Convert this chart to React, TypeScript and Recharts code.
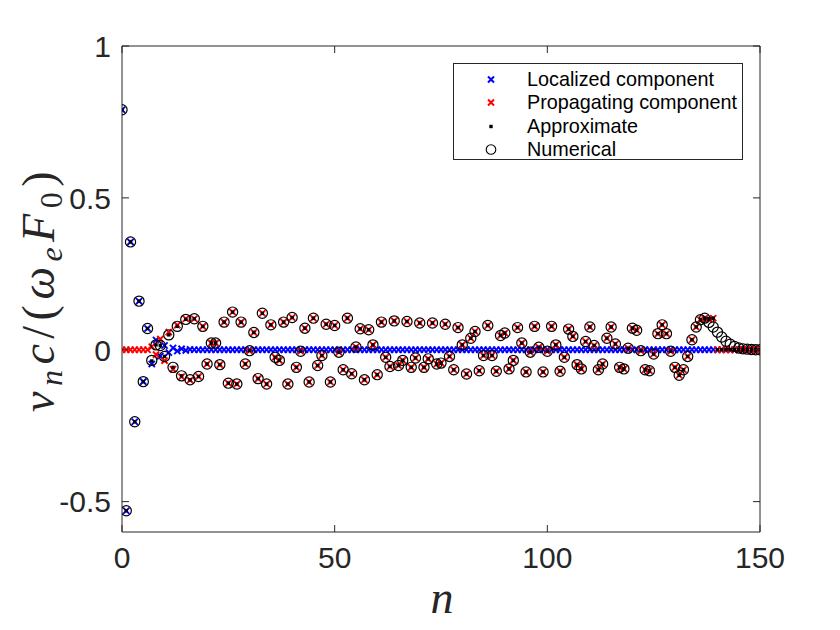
import React from 'react';
import { ScatterChart, Scatter, XAxis, YAxis, Legend } from 'recharts';

const AXIS_COLOR = '#262626';
const TICK_FONT = '"Liberation Sans", Arial, sans-serif';
const MATH_FONT = '"Liberation Serif", "Times New Roman", serif';

// values for n = 0 .. 150
const localized = [
  0.79, -0.53, 0.355, -0.237, 0.16, -0.105, 0.07, -0.047, 0.032, -0.021,
  0.014, -0.009, 0.006, -0.004, 0.003, -0.002, 0.001, 0, 0, 0,
  0, 0, 0, 0, 0, 0, 0, 0, 0, 0,
  0, 0, 0, 0, 0, 0, 0, 0, 0, 0,
  0, 0, 0, 0, 0, 0, 0, 0, 0, 0,
  0, 0, 0, 0, 0, 0, 0, 0, 0, 0,
  0, 0, 0, 0, 0, 0, 0, 0, 0, 0,
  0, 0, 0, 0, 0, 0, 0, 0, 0, 0,
  0, 0, 0, 0, 0, 0, 0, 0, 0, 0,
  0, 0, 0, 0, 0, 0, 0, 0, 0, 0,
  0, 0, 0, 0, 0, 0, 0, 0, 0, 0,
  0, 0, 0, 0, 0, 0, 0, 0, 0, 0,
  0, 0, 0, 0, 0, 0, 0, 0, 0, 0,
  0, 0, 0, 0, 0, 0, 0, 0, 0, 0,
  0, 0, 0, 0, 0, 0, 0, 0, 0, 0,
  0,
];

const propagating = [
  0, 0, 0, 0, 0, 0, 0, 0.01, -0.016, 0.035,
  -0.036, 0.058, -0.064, 0.081, -0.089, 0.102, -0.1, 0.102, -0.088, 0.077,
  -0.047, 0.022, 0.022, -0.049, 0.091, -0.11, 0.124, -0.113, 0.091, -0.047,
  -0.003, 0.057, -0.095, 0.12, -0.113, 0.082, -0.025, -0.035, 0.091, -0.113,
  0.106, -0.058, -0.005, 0.071, -0.106, 0.104, -0.052, -0.019, 0.084, -0.106,
  0.08, -0.008, -0.066, 0.104, -0.079, 0.009, 0.069, -0.099, 0.066, 0.016,
  -0.082, 0.091, -0.025, -0.055, 0.095, -0.052, -0.035, 0.093, -0.058, -0.027,
  0.088, -0.058, -0.03, 0.088, -0.047, -0.044, 0.084, -0.022, -0.066, 0.073,
  0.016, -0.08, 0.038, 0.06, -0.069, -0.019, 0.08, -0.019, -0.071, 0.047,
  0.055, -0.063, -0.035, 0.073, 0.022, -0.073, -0.008, 0.077, 0.008, -0.073,
  -0.005, 0.077, 0.016, -0.071, -0.025, 0.068, 0.044, -0.049, -0.063, 0.027,
  0.075, 0.014, -0.066, -0.047, 0.038, 0.075, 0.019, -0.058, -0.063, 0.005,
  0.071, 0.064, -0.003, -0.066, -0.069, -0.014, 0.053, 0.082, 0.053, -0.005,
  -0.058, -0.084, -0.066, -0.022, 0.033, 0.075, 0.099, 0.104, 0.1, 0.104,
  0, 0, 0, 0, 0, 0, 0, 0, 0, 0,
  0,
];

const approximate = [
  0.79, -0.53, 0.355, -0.237, 0.16, -0.105, 0.07, -0.037, 0.016, 0.014,
  -0.022, 0.049, -0.058, 0.077, -0.086, 0.1, -0.099, 0.102, -0.088, 0.077,
  -0.047, 0.022, 0.022, -0.049, 0.091, -0.11, 0.124, -0.113, 0.091, -0.047,
  -0.003, 0.057, -0.095, 0.12, -0.113, 0.082, -0.025, -0.035, 0.091, -0.113,
  0.106, -0.058, -0.005, 0.071, -0.106, 0.104, -0.052, -0.019, 0.084, -0.106,
  0.08, -0.008, -0.066, 0.104, -0.079, 0.009, 0.069, -0.099, 0.066, 0.016,
  -0.082, 0.091, -0.025, -0.055, 0.095, -0.052, -0.035, 0.093, -0.058, -0.027,
  0.088, -0.058, -0.03, 0.088, -0.047, -0.044, 0.084, -0.022, -0.066, 0.073,
  0.016, -0.08, 0.038, 0.06, -0.069, -0.019, 0.08, -0.019, -0.071, 0.047,
  0.055, -0.063, -0.035, 0.073, 0.022, -0.073, -0.008, 0.077, 0.008, -0.073,
  -0.005, 0.077, 0.016, -0.071, -0.025, 0.068, 0.044, -0.049, -0.063, 0.027,
  0.075, 0.014, -0.066, -0.047, 0.038, 0.075, 0.019, -0.058, -0.063, 0.005,
  0.071, 0.064, -0.003, -0.066, -0.069, -0.014, 0.053, 0.082, 0.053, -0.005,
  -0.058, -0.084, -0.066, -0.022, 0.033, 0.075, 0.099, 0.104, 0.1, 0.104,
  0, 0, 0, 0, 0, 0, 0, 0, 0, 0,
  0,
];

const numerical = [
  0.79, -0.53, 0.355, -0.237, 0.16, -0.105, 0.07, -0.035, 0.016, 0.014,
  -0.022, 0.049, -0.058, 0.077, -0.086, 0.1, -0.099, 0.102, -0.088, 0.077,
  -0.047, 0.022, 0.022, -0.049, 0.091, -0.11, 0.124, -0.113, 0.091, -0.047,
  -0.003, 0.057, -0.095, 0.12, -0.113, 0.082, -0.025, -0.035, 0.091, -0.113,
  0.106, -0.058, -0.005, 0.071, -0.106, 0.104, -0.052, -0.019, 0.084, -0.106,
  0.08, -0.008, -0.066, 0.104, -0.079, 0.009, 0.069, -0.099, 0.066, 0.016,
  -0.082, 0.091, -0.025, -0.055, 0.095, -0.052, -0.035, 0.093, -0.058, -0.027,
  0.088, -0.058, -0.03, 0.088, -0.047, -0.044, 0.084, -0.022, -0.066, 0.073,
  0.016, -0.08, 0.038, 0.06, -0.069, -0.019, 0.08, -0.019, -0.071, 0.047,
  0.055, -0.063, -0.035, 0.073, 0.022, -0.073, -0.008, 0.077, 0.008, -0.073,
  -0.005, 0.077, 0.016, -0.071, -0.025, 0.068, 0.044, -0.049, -0.063, 0.027,
  0.075, 0.014, -0.066, -0.047, 0.038, 0.075, 0.019, -0.058, -0.063, 0.005,
  0.071, 0.064, -0.003, -0.066, -0.069, -0.014, 0.053, 0.082, 0.053, -0.005,
  -0.058, -0.084, -0.066, -0.022, 0.033, 0.075, 0.099, 0.104, 0.09, 0.075,
  0.058, 0.042, 0.028, 0.018, 0.011, 0.006, 0.003, 0.002, 0.001, 0,
  0,
];

const xTicks = [0, 50, 100, 150];
const yTicks = [-0.5, 0, 0.5, 1];
const legendNames = ['Localized component', 'Propagating component', 'Approximate', 'Numerical'];

const toPoints = (vals: number[]) => vals.map((v, n) => ({ n, v }));

// marker shapes (matlab style)
const crossShape = (color: string) => (p: any) => {
  const { cx, cy } = p;
  const s = 3.1;
  return (
    <path
      d={`M${cx - s},${cy - s}L${cx + s},${cy + s}M${cx - s},${cy + s}L${cx + s},${cy - s}`}
      stroke={color}
      strokeWidth={1.9}
      fill="none"
    />
  );
};
const dotShape = (p: any) => <rect x={p.cx - 1.7} y={p.cy - 1.7} width={3.4} height={3.4} fill="#000" />;
const circleShape = (p: any) => <circle cx={p.cx} cy={p.cy} r={5.1} fill="none" stroke="#000" strokeWidth={1.2} />;
const noShape = () => <g />;

const tickText = { fontFamily: TICK_FONT, fontSize: 30, fill: AXIS_COLOR };

const BottomTick = ({ x, y, payload }: any) => (
  <g>
    <line x1={x} x2={x} y1={y} y2={y - 7} stroke={AXIS_COLOR} />
    <text x={x} y={y + 36} textAnchor="middle" {...tickText}>{payload.value}</text>
  </g>
);
const LeftTick = ({ x, y, payload }: any) => (
  <g>
    <line x1={x} x2={x + 7} y1={y} y2={y} stroke={AXIS_COLOR} />
    <text x={x - 11} y={y + 10.8} textAnchor="end" {...tickText}>{payload.value}</text>
  </g>
);
const TopTick = ({ x, y }: any) => <line x1={x} x2={x} y1={y} y2={y + 7} stroke={AXIS_COLOR} />;
const RightTick = ({ x, y }: any) => <line x1={x} x2={x - 7} y1={y} y2={y} stroke={AXIS_COLOR} />;

const YLabel = () => (
  <text
    transform="rotate(-90, 54, 289)"
    x={54}
    y={289}
    textAnchor="middle"
    fontFamily={MATH_FONT}
    fontSize={46}
    letterSpacing={5.5}
    fill={AXIS_COLOR}
  >
    <tspan fontStyle="italic">v</tspan>
    <tspan fontStyle="italic" fontSize={32} dy={8}>n</tspan>
    <tspan fontStyle="italic" dy={-8}>c</tspan>
    <tspan>/(</tspan>
    <tspan fontStyle="italic">ω</tspan>
    <tspan fontStyle="italic" fontSize={32} dy={8}>e</tspan>
    <tspan fontStyle="italic" dy={-8}>F</tspan>
    <tspan fontSize={32} dy={8}>0</tspan>
    <tspan dy={-8}>)</tspan>
  </text>
);

const XLabel = () => (
  <text x={442} y={613} textAnchor="middle" fontFamily={MATH_FONT} fontSize={46} fontStyle="italic" fill={AXIS_COLOR}>
    n
  </text>
);

const legendMarker = (i: number) => {
  if (i === 0 || i === 1) {
    const c = i === 0 ? '#0000ff' : '#ff0000';
    return <path d="M34,8.5L40,14.5M34,14.5L40,8.5" stroke={c} strokeWidth={2} fill="none" />;
  }
  if (i === 2) return <rect x={35.3} y={9.8} width={3.4} height={3.4} fill="#000" />;
  return <circle cx={37} cy={11.5} r={4.8} fill="none" stroke="#000" strokeWidth={1.1} />;
};

const LegendBox = () => (
  <div
    style={{
      width: 290,
      height: 97,
      boxSizing: 'border-box',
      border: `1px solid ${AXIS_COLOR}`,
      background: '#fff',
      position: 'relative',
      fontFamily: TICK_FONT,
      fontSize: 19.8,
      color: '#000',
    }}
  >
    {legendNames.map((name, i) => (
      <div
        key={name}
        style={{ position: 'absolute', left: 0, top: 3.5 + i * 23.5, height: 23, display: 'flex', alignItems: 'center' }}
      >
        <svg width={73} height={23}>{legendMarker(i)}</svg>
        <span style={{ lineHeight: '23px', whiteSpace: 'nowrap' }}>{name}</span>
      </div>
    ))}
  </div>
);

export default function App() {
  return (
    <div style={{ position: 'absolute', left: 0, top: 0, width: 840, height: 630, background: '#fff' }}>
      <ScatterChart width={840} height={630} margin={{ top: 45, right: 79, bottom: 58, left: 42 }}>
        <XAxis
          dataKey="n"
          type="number"
          domain={[0, 150]}
          ticks={xTicks}
          interval={0}
          height={40}
          tickSize={0}
          tickMargin={0}
          tickLine={false}
          axisLine={{ stroke: AXIS_COLOR }}
          tick={<BottomTick />}
          allowDataOverflow
          label={<XLabel />}
        />
        <XAxis
          xAxisId="top"
          orientation="top"
          dataKey="n"
          type="number"
          domain={[0, 150]}
          ticks={xTicks}
          interval={0}
          height={1}
          tickSize={0}
          tickMargin={0}
          tickLine={false}
          axisLine={{ stroke: AXIS_COLOR }}
          tick={<TopTick />}
          allowDataOverflow
        />
        <YAxis
          dataKey="v"
          type="number"
          domain={[-0.6, 1]}
          ticks={yTicks}
          interval={0}
          width={80}
          tickSize={0}
          tickMargin={0}
          tickLine={false}
          axisLine={{ stroke: AXIS_COLOR }}
          tick={<LeftTick />}
          allowDataOverflow
          label={<YLabel />}
        />
        <YAxis
          yAxisId="right"
          orientation="right"
          dataKey="v"
          type="number"
          domain={[-0.6, 1]}
          ticks={yTicks}
          interval={0}
          width={1}
          tickSize={0}
          tickMargin={0}
          tickLine={false}
          axisLine={{ stroke: AXIS_COLOR }}
          tick={<RightTick />}
          allowDataOverflow
        />
        {/* carrier series so the mirrored box axes get a data set */}
        <Scatter
          xAxisId="top"
          yAxisId="right"
          data={toPoints(numerical)}
          shape={noShape}
          legendType="none"
          isAnimationActive={false}
        />
        <Scatter name="Localized component" data={toPoints(localized)} shape={crossShape('#0000ff')} isAnimationActive={false} />
        <Scatter name="Propagating component" data={toPoints(propagating)} shape={crossShape('#ff0000')} isAnimationActive={false} />
        <Scatter name="Approximate" data={toPoints(approximate)} shape={dotShape} isAnimationActive={false} />
        <Scatter name="Numerical" data={toPoints(numerical)} shape={circleShape} isAnimationActive={false} />
        <Legend
          layout="vertical"
          align="center"
          verticalAlign="middle"
          content={<LegendBox />}
          wrapperStyle={{ left: 453, top: 63, width: 290, height: 97 }}
        />
      </ScatterChart>
    </div>
  );
}
